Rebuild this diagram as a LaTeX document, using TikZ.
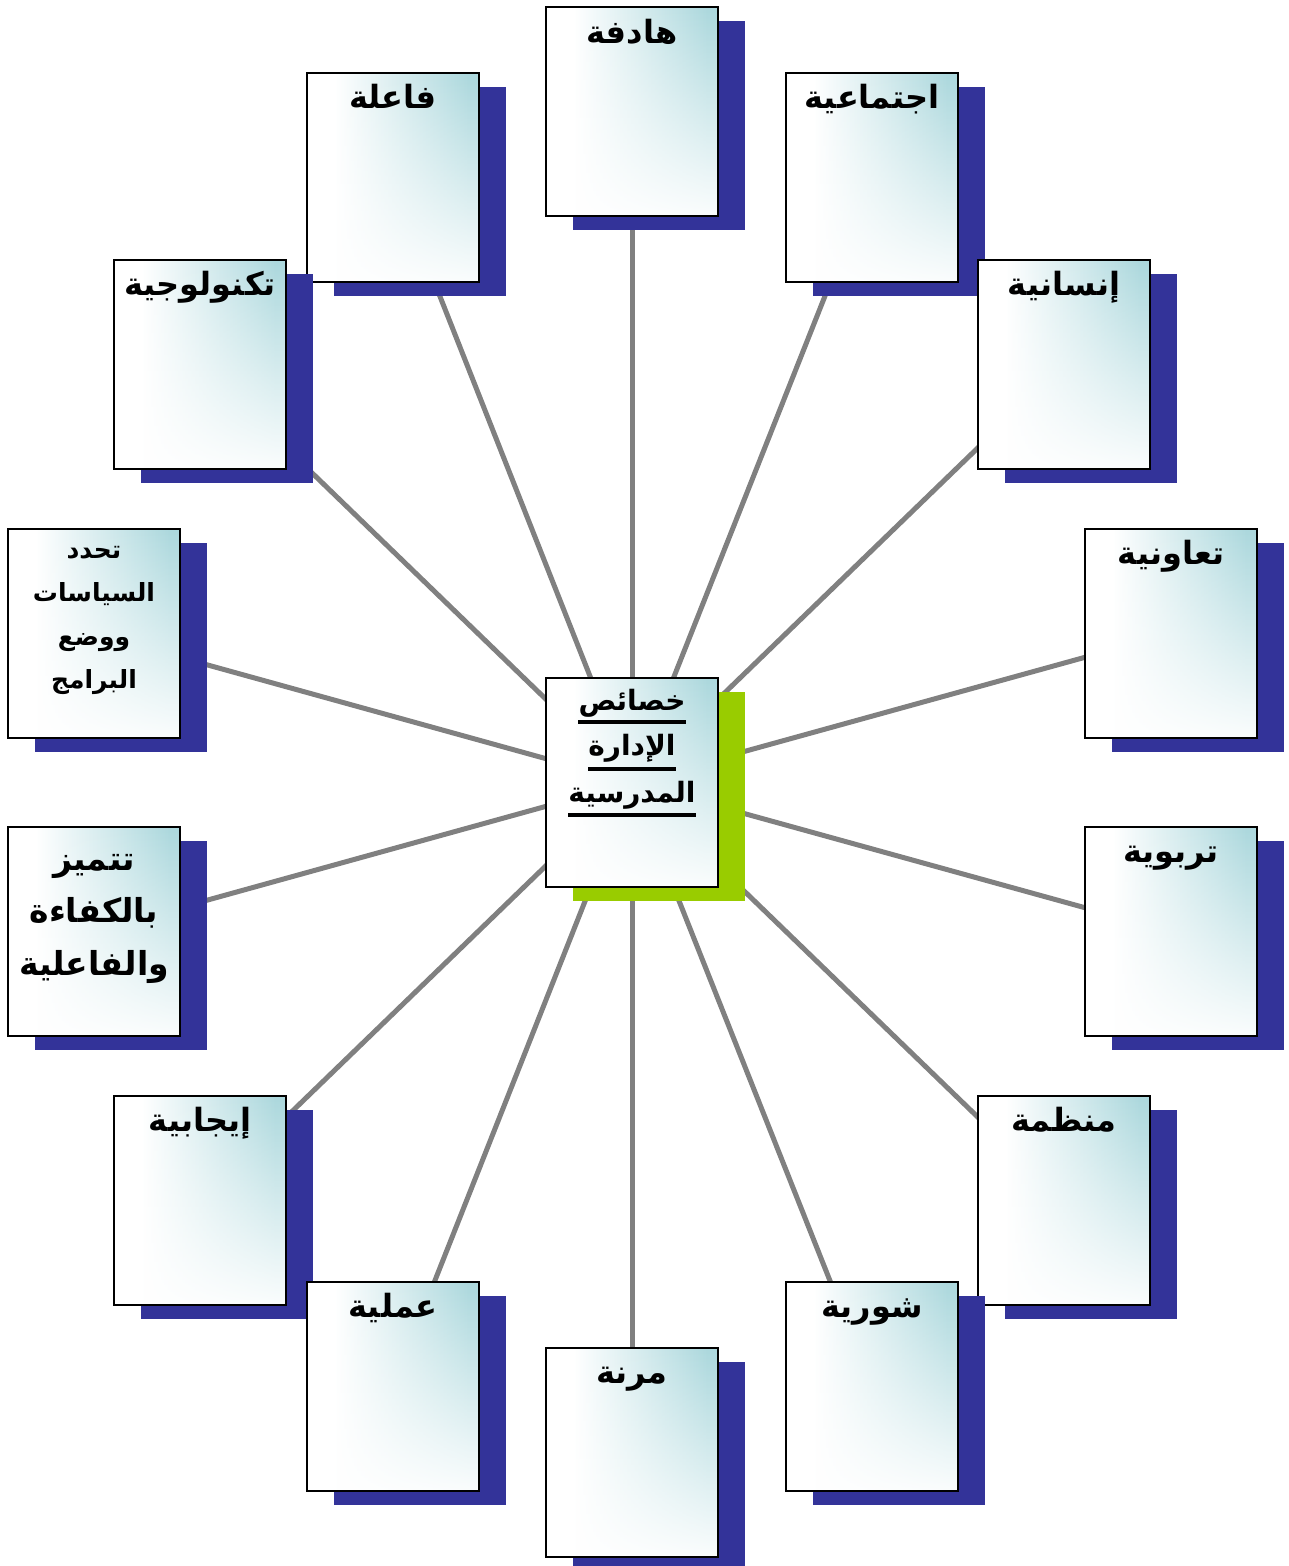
\documentclass[tikz,border=0pt]{standalone}
\usepackage{fontspec}
\newfontfamily\arabicfont[Script=Arabic]{DejaVu Sans}
\TeXXeTstate=1
\usetikzlibrary{shadows,backgrounds,fadings}
\definecolor{shadowblue}{RGB}{51,51,153}
\definecolor{shadowgreen}{RGB}{153,204,0}
\definecolor{cardteal}{RGB}{172,216,221}
\definecolor{linkgrey}{RGB}{128,128,128}
\pgfdeclarehorizontalshading{cardh}{100bp}{color(0bp)=(white); color(33bp)=(white); color(72bp)=(cardteal); color(100bp)=(cardteal)}
\tikzfading[name=fadedown, top color=transparent!0, bottom color=transparent!95]
\tikzset{
  cardbase/.style={draw=black, line width=1.8pt, minimum width=172pt, minimum height=209pt, inner sep=0pt},
  cardfill/.style={preaction={fill=white}, preaction={shade, shading=cardh, path fading=fadedown}},
  card/.style={cardbase, general shadow={fill=shadowblue, shadow xshift=27pt, shadow yshift=-14pt}, cardfill},
  centercard/.style={cardbase, general shadow={fill=shadowgreen, shadow xshift=27pt, shadow yshift=-14pt}, cardfill},
  cardtext/.style={font=\arabicfont\bfseries\fontsize{32}{36}\selectfont, anchor=base, inner sep=0pt},
  smalltext/.style={cardtext, font=\arabicfont\bfseries\fontsize{25}{28}\selectfont},
  midtext/.style={cardtext, font=\arabicfont\bfseries\fontsize{33}{38}\selectfont},
  ctrtext/.style={cardtext, font=\arabicfont\bfseries\fontsize{28}{30}\selectfont},
  ul/.style={line width=3.5pt, black},
  link/.style={draw=linkgrey, line width=5pt},
}
\begin{document}
\begin{tikzpicture}[x=1pt,y=-1pt]
\useasboundingbox (0,0) rectangle (1288,1566);
% cards
\node[card] (hadifa) at (632,111.5) {};
\node[card] (faila) at (393,177.5) {};
\node[card] (ijtima) at (872,177.5) {};
\node[card] (tikno) at (200,364.5) {};
\node[card] (insan) at (1064,364.5) {};
\node[card] (tahdid) at (94,633.5) {};
\node[card] (taawun) at (1171,633.5) {};
\node[centercard] (ctr) at (632,782.5) {};
\node[card] (tamayyuz) at (94,931.5) {};
\node[card] (tarbawi) at (1171,931.5) {};
\node[card] (ijabi) at (200,1200.5) {};
\node[card] (munazzam) at (1064,1200.5) {};
\node[card] (amali) at (393,1386.5) {};
\node[card] (shuri) at (872,1386.5) {};
\node[card] (marin) at (632,1452.5) {};
% connectors
\begin{scope}[on background layer]
\foreach \n in {hadifa,faila,ijtima,tikno,insan,tahdid,taawun,tamayyuz,tarbawi,ijabi,munazzam,amali,shuri,marin}
  \draw[link] (ctr.center) -- (\n.center);
\end{scope}
% single-word texts
\node[cardtext] (thadifa) at ([yshift=-37pt]hadifa.north) {\beginR هادفة\endR};
\node[cardtext] (tfaila) at ([yshift=-36pt]faila.north) {\beginR فاعلة\endR};
\node[cardtext] (tijtima) at ([yshift=-36pt]ijtima.north) {\beginR اجتماعية\endR};
\node[cardtext] (ttikno) at ([yshift=-36pt]tikno.north) {\beginR تكنولوجية\endR};
\node[cardtext] (tinsan) at ([yshift=-36pt]insan.north) {\beginR إنسانية\endR};
\node[cardtext] (ttaawun) at ([yshift=-36pt]taawun.north) {\beginR تعاونية\endR};
\node[cardtext] (ttarbawi) at ([yshift=-36pt]tarbawi.north) {\beginR تربوية\endR};
\node[cardtext] (tijabi) at ([yshift=-36pt]ijabi.north) {\beginR إيجابية\endR};
\node[cardtext] (tmunazzam) at ([yshift=-36pt]munazzam.north) {\beginR منظمة\endR};
\node[cardtext] (tamali) at ([yshift=-36pt]amali.north) {\beginR عملية\endR};
\node[cardtext] (tshuri) at ([yshift=-36pt]shuri.north) {\beginR شورية\endR};
\node[cardtext] (tmarin) at ([yshift=-36pt]marin.north) {\beginR مرنة\endR};
% multi-line texts
\node[smalltext] (ta1) at (94,558) {\beginR تحدد\endR};
\node[smalltext] (ta2) at (94,601) {\beginR السياسات\endR};
\node[smalltext] (ta3) at (94,645) {\beginR ووضع\endR};
\node[smalltext] (ta4) at (94,688) {\beginR البرامج\endR};
\node[midtext] (tm1) at (94,870) {\beginR تتميز\endR};
\node[midtext] (tm2) at (94,922) {\beginR بالكفاءة\endR};
\node[midtext] (tm3) at (94,975) {\beginR والفاعلية\endR};
% centre title
\node[ctrtext] (c1) at (632,710) {\beginR خصائص\endR};
\node[ctrtext] (c2) at (632,755) {\beginR الإدارة\endR};
\node[ctrtext] (c3) at (632,802) {\beginR المدرسية\endR};
\draw[ul] ([yshift=-12pt]c1.base west) -- ([yshift=-12pt]c1.base east);
\draw[ul] ([yshift=-14pt]c2.base west) -- ([yshift=-14pt]c2.base east);
\draw[ul] ([yshift=-13pt]c3.base west) -- ([yshift=-13pt]c3.base east);
\end{tikzpicture}
\end{document}
